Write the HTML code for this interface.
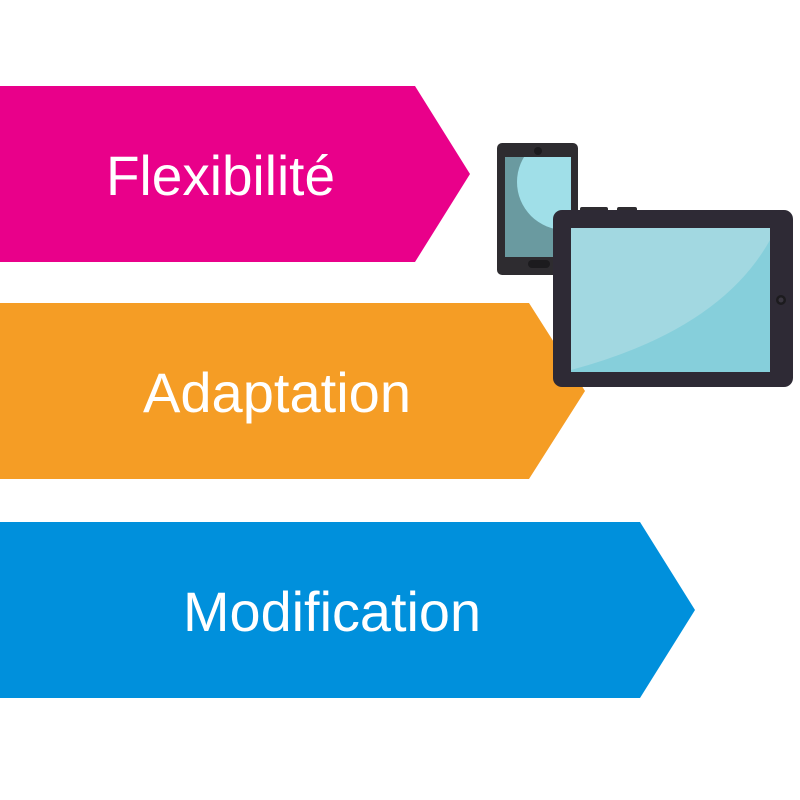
<!DOCTYPE html>
<html><head><style>html,body{margin:0;padding:0;background:#fff;}svg{display:block}</style></head>
<body>
<svg width="800" height="800" viewBox="0 0 800 800" xmlns="http://www.w3.org/2000/svg">
<rect width="800" height="800" fill="#fff"/>
<polygon points="0,86 415,86 470,174 415,262 0,262" fill="#e9008a"/>
<polygon points="0,303 529,303 585,391 529,479 0,479" fill="#f59d25"/>
<polygon points="0,522 640,522 695,610 640,698 0,698" fill="#0090dc"/>
<g font-family="Liberation Sans, sans-serif" fill="#fff" font-size="56">
<text x="106" y="195" textLength="229" lengthAdjust="spacingAndGlyphs">Flexibilité</text>
<text x="143" y="412" textLength="268" lengthAdjust="spacingAndGlyphs">Adaptation</text>
<text x="183" y="631" textLength="298" lengthAdjust="spacingAndGlyphs">Modification</text>
</g>
<!-- phone -->
<rect x="497" y="143" width="81" height="132" rx="5" fill="#2e2c30"/>
<rect x="505" y="157" width="66" height="100" fill="#6a9aa0"/>
<clipPath id="ps"><rect x="505" y="157" width="66" height="100"/></clipPath>
<circle cx="565" cy="182" r="48" fill="#a0dfe8" clip-path="url(#ps)"/>
<circle cx="538" cy="151" r="4" fill="#1c1b1e"/>
<rect x="528" y="260" width="22" height="8" rx="4" fill="#1c1b1e"/>
<!-- tablet -->
<rect x="580" y="207" width="28" height="6" rx="2" fill="#2e2c30"/>
<rect x="617" y="207" width="20" height="6" rx="2" fill="#2e2c30"/>
<rect x="553" y="210" width="240" height="177" rx="9" fill="#2e2a35"/>
<rect x="571" y="228" width="199" height="144" fill="#86cfdb"/>
<clipPath id="ts"><rect x="571" y="228" width="199" height="144"/></clipPath>
<path d="M571,228 L770,228 L770,240 Q720,330 571,370 Z" fill="#a2d8e1" clip-path="url(#ts)"/>
<circle cx="781" cy="300" r="5" fill="#1c1b1e"/>
<circle cx="781" cy="300" r="2.5" fill="#3a3640"/>
</svg>
</body></html>
